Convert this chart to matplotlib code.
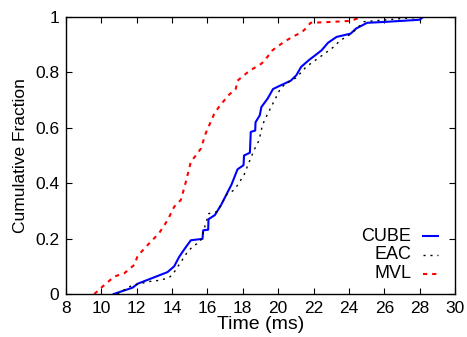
import matplotlib
matplotlib.use('Agg')
import matplotlib.pyplot as plt

plt.rcParams['font.family'] = ['Liberation Sans', 'DejaVu Sans']

# CDF curves (time in ms, cumulative fraction)
cube_x = [10.7, 11.77, 12.05, 13.18, 13.74, 14.12, 14.40, 14.72, 15.06, 15.72, 15.76, 16.04,
          16.06, 16.42, 16.76, 17.08, 17.36, 17.7, 18.04, 18.07, 18.4, 18.45, 18.7, 18.72,
          18.96, 19.05, 19.4, 19.71, 20.1, 20.71, 21.03, 21.3, 21.75, 22.1, 22.46, 22.82,
          23.3, 24.1, 24.4, 25.03, 25.97, 28.0, 28.2]
cube_y = [0, 0.023, 0.037, 0.065, 0.079, 0.10, 0.134, 0.164, 0.194, 0.199, 0.23, 0.232,
          0.27, 0.285, 0.32, 0.36, 0.395, 0.45, 0.465, 0.50, 0.51, 0.585, 0.59, 0.62,
          0.645, 0.675, 0.705, 0.74, 0.752, 0.77, 0.79, 0.82, 0.845, 0.862, 0.88, 0.907,
          0.928, 0.94, 0.958, 0.979, 0.982, 0.99, 1.0]

eac_x = [10.9, 11.7, 12.7, 13.37, 13.84, 14.03, 14.82, 15.14, 15.6, 16.07, 16.55, 17.1, 17.5,
         17.7, 18.07, 18.36, 18.64, 18.92, 19.11, 19.4, 19.68, 19.96, 20.15, 20.71, 21.0,
         21.3, 21.58, 22.63, 23.1, 23.5, 24.15, 24.85, 27.1, 28.2]
eac_y = [0.0, 0.03, 0.045, 0.05, 0.06, 0.07, 0.147, 0.17, 0.19, 0.29, 0.297, 0.36, 0.375,
         0.393, 0.43, 0.477, 0.52, 0.555, 0.61, 0.65, 0.685, 0.72, 0.745, 0.77, 0.78,
         0.80, 0.82, 0.868, 0.89, 0.915, 0.94, 0.983, 0.995, 1.0]

mvl_x = [9.6, 10.07, 10.73, 11.3, 11.86, 12.05, 12.62, 13.27, 13.75, 14.12, 14.5, 14.78,
         15.06, 15.34, 15.63, 15.9, 16.38, 16.7, 17.23, 17.6, 17.7, 18.36, 19.02, 19.2,
         19.68, 20.33, 20.8, 21.36, 21.64, 21.83, 22.96, 24.1, 24.5, 24.8]
mvl_y = [0, 0.027, 0.063, 0.075, 0.105, 0.137, 0.177, 0.22, 0.267, 0.315, 0.34, 0.405,
         0.477, 0.50, 0.525, 0.58, 0.65, 0.68, 0.72, 0.74, 0.77, 0.805, 0.83, 0.84,
         0.88, 0.91, 0.928, 0.946, 0.964, 0.979, 0.982, 0.986, 0.995, 1.0]

x_ticks = list(range(8, 31, 2))
y_ticks = [0, 0.2, 0.4, 0.6, 0.8, 1]
y_tick_labels = ['0', '0.2', '0.4', '0.6', '0.8', '1']

fig = plt.figure(figsize=(4.67, 3.37), dpi=100)
ax = fig.add_axes([0.1413, 0.1276, 0.833, 0.822])

ax.plot(cube_x, cube_y, color='#0000ff', lw=1.5)
ax.plot(eac_x, eac_y, color='black', lw=1.0, dashes=(1.5, 3.5))
ax.plot(mvl_x, mvl_y, color='#ff0000', lw=1.5, dashes=(2, 2.4))

ax.set_xlim(8, 30)
ax.set_ylim(0, 1)
ax.set_xticks(x_ticks)
ax.set_yticks(y_ticks)
ax.set_yticklabels(y_tick_labels)
ax.tick_params(direction='in', length=4, top=True, right=True, labelsize=12.5, pad=5)
for s in ax.spines.values():
    s.set_linewidth(1.0)

ax.set_xlabel('Time (ms)', fontsize=14, labelpad=0)
ax.set_ylabel('Cumulative Fraction', fontsize=12.5, labelpad=5)

# gnuplot-style key: labels right aligned, sample on the right
key = [('CUBE', dict(color='#0000ff', lw=1.5)),
       ('EAC', dict(color='black', lw=1.0, dashes=(1.5, 3.5))),
       ('MVL', dict(color='#ff0000', lw=1.5, dashes=(2, 2.4)))]
for i, (name, st) in enumerate(key):
    yy = 0.209 - i * 0.068
    ax.text(0.887, yy, name, transform=ax.transAxes, ha='right', va='center', fontsize=13)
    ax.plot([0.918, 0.956], [yy, yy], transform=ax.transAxes, **st)

fig.savefig('out.png', dpi=100)
